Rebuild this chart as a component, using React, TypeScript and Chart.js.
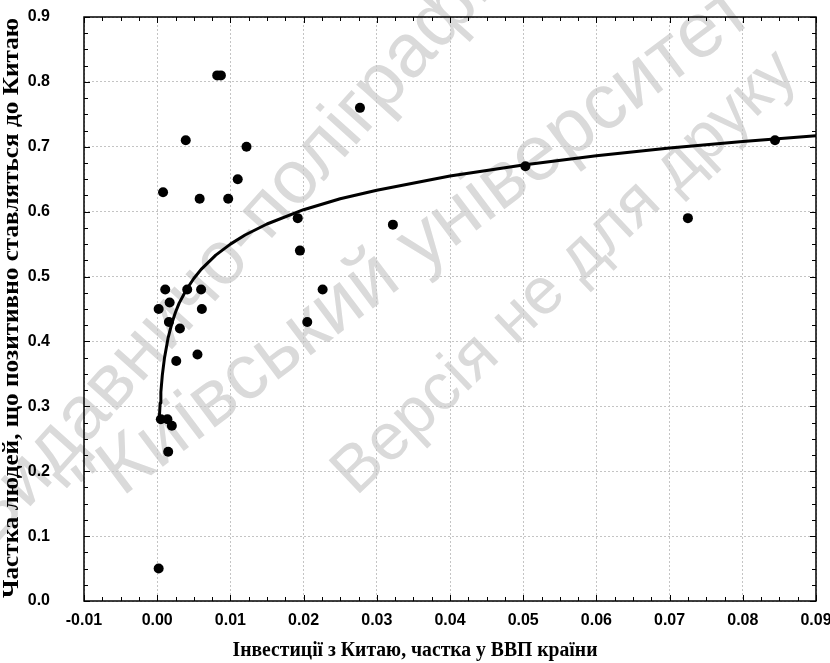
import React, { useEffect, useRef } from 'react';
import { Chart, registerables } from 'chart.js';

Chart.register(...registerables);

// Scatter data: investment from China (share of GDP) vs share of people positive toward China
const investShare = [
  0.0002, 0.0015, 0.0005, 0.0014, 0.0020, 0.0026, 0.0055, 0.0031, 0.0016, 0.0002,
  0.0061, 0.0017, 0.0011, 0.0041, 0.0060, 0.0008, 0.0058, 0.0097, 0.0110, 0.0122,
  0.0039, 0.0082, 0.0087, 0.0192, 0.0195, 0.0205, 0.0226, 0.0277, 0.0322, 0.0503,
  0.0725, 0.0844,
];
const positiveShare = [
  0.05, 0.23, 0.28, 0.28, 0.27, 0.37, 0.38, 0.42, 0.43, 0.45,
  0.45, 0.46, 0.48, 0.48, 0.48, 0.63, 0.62, 0.62, 0.65, 0.70,
  0.71, 0.81, 0.81, 0.59, 0.54, 0.43, 0.48, 0.76, 0.58, 0.67,
  0.59, 0.71,
];

// Fitted curve (in drawing order)
const fitX = [
  0.0014, 0.0003, 0.0003, 0.0004, 0.0005, 0.0007, 0.001, 0.0015, 0.002, 0.0025,
  0.003, 0.004, 0.005, 0.006, 0.008, 0.01, 0.012, 0.015, 0.02, 0.025,
  0.03, 0.04, 0.05, 0.06, 0.07, 0.08, 0.09,
];
const fitY = [
  0.28, 0.28, 0.284, 0.305, 0.322, 0.348, 0.375, 0.406, 0.428, 0.445,
  0.459, 0.48, 0.497, 0.511, 0.533, 0.55, 0.564, 0.581, 0.603, 0.62,
  0.633, 0.655, 0.672, 0.686, 0.698, 0.708, 0.717,
];

const xTickValues = [-0.01, 0, 0.01, 0.02, 0.03, 0.04, 0.05, 0.06, 0.07, 0.08, 0.09];
const yTickValues = [0, 0.1, 0.2, 0.3, 0.4, 0.5, 0.6, 0.7, 0.8, 0.9];

const xTitle = 'Інвестиції з Китаю, частка у ВВП країни';
const yTitle = 'Частка людей, що позитивно ставляться до Китаю';

const watermarkLines = [
  'Видавничо-поліграфічний центр',
  '"Київський університет"',
  'Версія не для друку',
];

const watermarkPlugin = {
  id: 'watermark',
  beforeDraw(chart: any) {
    const { ctx, width, height } = chart;
    ctx.save();
    ctx.fillStyle = '#ffffff';
    ctx.fillRect(0, 0, width, height);
    ctx.fillStyle = '#dadada';
    ctx.textAlign = 'left';
    ctx.textBaseline = 'alphabetic';
    const layout = [
      { x: -7, y: 548, size: 76, angle: -48 },
      { x: 100, y: 514, size: 78, angle: -37 },
      { x: 356, y: 497, size: 66, angle: -43.5 },
    ];
    watermarkLines.forEach((t, i) => {
      const l = layout[i];
      ctx.save();
      ctx.font = `${l.size}px "Liberation Sans", Arial, sans-serif`;
      ctx.translate(l.x, l.y);
      ctx.rotate((l.angle * Math.PI) / 180);
      ctx.fillText(t, 0, 0);
      ctx.restore();
    });
    ctx.restore();
  },
};

const frameTitlesPlugin = {
  id: 'frameTitles',
  afterDraw(chart: any) {
    const { ctx, chartArea: a, scales } = chart;
    const xs = scales.x;
    const ys = scales.y;
    ctx.save();
    ctx.strokeStyle = '#000';
    ctx.lineWidth = 1;
    const xMin = xTickValues[0];
    const xMax = xTickValues[xTickValues.length - 1];
    const xMinorStep = 0.0025;
    const nx = Math.round((xMax - xMin) / xMinorStep);
    ctx.beginPath();
    for (let i = 0; i <= nx; i++) {
      const px = Math.round(xs.getPixelForValue(xMin + i * xMinorStep)) + 0.5;
      const len = i % 4 === 0 ? 6 : 4;
      ctx.moveTo(px, a.bottom);
      ctx.lineTo(px, a.bottom - len);
      ctx.moveTo(px, a.top);
      ctx.lineTo(px, a.top + len);
    }
    const yMin = yTickValues[0];
    const yMax = yTickValues[yTickValues.length - 1];
    const yMinorStep = 0.025;
    const ny = Math.round((yMax - yMin) / yMinorStep);
    for (let i = 0; i <= ny; i++) {
      const py = Math.round(ys.getPixelForValue(yMin + i * yMinorStep)) + 0.5;
      const len = i % 4 === 0 ? 6 : 4;
      ctx.moveTo(a.left, py);
      ctx.lineTo(a.left + len, py);
      ctx.moveTo(a.right, py);
      ctx.lineTo(a.right - len, py);
    }
    ctx.stroke();
    ctx.lineWidth = 1.5;
    ctx.strokeRect(a.left, a.top, a.right - a.left, a.bottom - a.top);

    // Axis titles
    ctx.fillStyle = '#000';
    ctx.font = 'bold 20px "Liberation Serif", "Times New Roman", serif';
    ctx.textAlign = 'center';
    ctx.textBaseline = 'alphabetic';
    const wx = ctx.measureText(xTitle).width;
    ctx.save();
    ctx.translate(415, 656);
    ctx.scale(365 / wx, 1);
    ctx.fillText(xTitle, 0, 0);
    ctx.restore();

    ctx.font = 'bold 23px "Liberation Serif", "Times New Roman", serif';
    const wy = ctx.measureText(yTitle).width;
    ctx.save();
    ctx.translate(18, 308);
    ctx.rotate(-Math.PI / 2);
    ctx.scale(580 / wy, 1);
    ctx.fillText(yTitle, 0, 0);
    ctx.restore();
    ctx.restore();
  },
};

export default function App() {
  const ref = useRef<HTMLCanvasElement | null>(null);
  useEffect(() => {
    document.body.style.margin = '0';
    const canvas = ref.current;
    if (!canvas) return;
    const tickFont = { family: '"Liberation Sans", Arial, sans-serif', weight: 'bold' as const, size: 16 };
    const chart = new Chart(canvas, {
      type: 'scatter',
      data: {
        datasets: [
          {
            label: 'points',
            data: investShare.map((x, i) => ({ x, y: positiveShare[i] })),
            backgroundColor: '#000',
            borderColor: '#000',
            pointRadius: 5,
            pointBorderWidth: 0,
            showLine: false,
          },
          {
            label: 'fit',
            data: fitX.map((x, i) => ({ x, y: fitY[i] })),
            borderColor: '#000',
            backgroundColor: '#000',
            borderWidth: 3,
            pointRadius: 0,
            showLine: true,
            tension: 0,
            borderJoinStyle: 'round',
          } as any,
        ],
      },
      options: {
        responsive: false,
        animation: false,
        devicePixelRatio: 1,
        layout: { padding: { left: 0, top: 17, right: 14, bottom: 0 } },
        plugins: {
          legend: { display: false },
          tooltip: { enabled: false },
          title: { display: false },
        },
        scales: {
          x: {
            type: 'linear',
            min: xTickValues[0],
            max: xTickValues[xTickValues.length - 1],
            afterBuildTicks: (s: any) => {
              s.ticks = xTickValues.map((v) => ({ value: v }));
            },
            afterFit: (s: any) => {
              s.height = 62;
              s.paddingLeft = 0;
              s.paddingRight = 0;
            },
            ticks: {
              callback: (v: any) => Number(v).toFixed(2),
              font: tickFont,
              color: '#000',
              padding: 10,
              maxRotation: 0,
              autoSkip: false,
            },
            grid: { color: '#c4c4c4', lineWidth: 1, drawTicks: false },
            border: { display: false, dash: [2, 2] },
          },
          y: {
            type: 'linear',
            min: yTickValues[0],
            max: yTickValues[yTickValues.length - 1],
            afterBuildTicks: (s: any) => {
              s.ticks = yTickValues.map((v) => ({ value: v }));
            },
            afterFit: (s: any) => {
              s.width = 84;
              s.paddingTop = 0;
              s.paddingBottom = 0;
            },
            ticks: {
              callback: (v: any) => Number(v).toFixed(1),
              font: tickFont,
              color: '#000',
              padding: 34,
              autoSkip: false,
            },
            grid: { color: '#c4c4c4', lineWidth: 1, drawTicks: false },
            border: { display: false, dash: [2, 2] },
          },
        },
      },
      plugins: [watermarkPlugin, frameTitlesPlugin],
    });
    return () => chart.destroy();
  }, []);
  return <canvas ref={ref} width={830} height={663} style={{ display: 'block', width: 830, height: 663 }} />;
}
